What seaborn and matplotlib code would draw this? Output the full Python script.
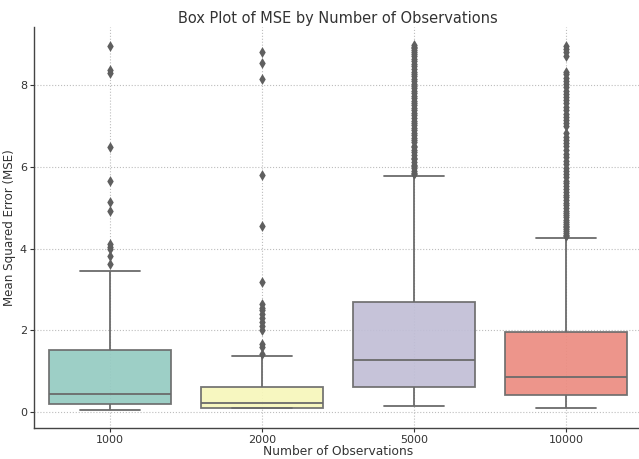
import numpy as np
import pandas as pd
import matplotlib
matplotlib.use("Agg")
import matplotlib.pyplot as plt
import seaborn as sns

# Category labels
groups = ["1000", "2000", "5000", "10000"]

# Five-number summaries per group: lower whisker, Q1, median, Q3, upper whisker
whisk_lo = [0.05, 0.11, 0.16, 0.11]
q1 = [0.20, 0.11, 0.62, 0.42]
median = [0.44, 0.21, 1.27, 0.86]
q3 = [1.52, 0.62, 2.70, 1.97]
whisk_hi = [3.44, 1.37, 5.78, 4.26]

# Outlying MSE values per group
out_1000 = [3.62, 3.82, 4.00, 4.05, 4.10, 4.93, 5.15, 5.65, 6.48, 8.30, 8.36, 8.96]
out_2000 = [1.42, 1.60, 1.66, 2.00, 2.10, 2.20, 2.30, 2.40, 2.50, 2.55, 2.65,
            3.19, 4.55, 5.81, 8.14, 8.55, 8.80]
out_5000 = [5.82, 5.85, 5.90, 5.96, 6.01, 6.05, 6.12, 6.18, 6.22, 6.30, 6.35,
            6.41, 6.48, 6.52, 6.60, 6.66, 6.71, 6.78, 6.83, 6.90, 6.95, 7.02,
            7.08, 7.13, 7.20, 7.26, 7.31, 7.38, 7.44, 7.50, 7.55, 7.62, 7.68,
            7.73, 7.80, 7.86, 7.92, 7.98, 8.03, 8.10, 8.15, 8.22, 8.28, 8.33,
            8.40, 8.46, 8.52, 8.58, 8.63, 8.70, 8.75, 8.80, 8.85, 8.90, 8.94, 8.98]
out_10000 = [4.30, 4.34, 4.38, 4.42, 4.47, 4.52, 4.56, 4.61, 4.66, 4.70, 4.76,
             4.82, 4.87, 4.93, 5.00, 5.06, 5.12, 5.18, 5.25, 5.31, 5.38, 5.45,
             5.52, 5.60, 5.66, 5.74, 5.82, 5.90, 5.98, 6.06, 6.15, 6.24, 6.32,
             6.40, 6.50, 6.58, 6.66, 6.74, 6.82, 7.00, 7.06, 7.14, 7.22, 7.30,
             7.38, 7.47, 7.55, 7.63, 7.70, 7.78, 7.86, 7.94, 8.02, 8.10, 8.18,
             8.26, 8.33, 8.72, 8.80, 8.88, 8.96]

# Long-form tables
box_rows = []
for i, g in enumerate(groups):
    for v in (whisk_lo[i], q1[i], median[i], q3[i], whisk_hi[i]):
        box_rows.append({"n": g, "mse": v})
box_df = pd.DataFrame(box_rows)

outliers = {"1000": out_1000, "2000": out_2000, "5000": out_5000, "10000": out_10000}
out_df = pd.DataFrame([{"n": g, "mse": v} for g in groups for v in outliers[g]])

sns.set_style("white")
plt.rcParams["font.family"] = ["DejaVu Sans"]
text_col = "#333333"

fig = plt.figure(figsize=(6.39, 4.59), dpi=100)
ax = fig.add_axes([34 / 639, 31 / 459, 608 / 639, 401 / 459])

line_col = "#6b6b6b"
sns.boxplot(data=box_df, x="n", y="mse", order=groups, hue="n", hue_order=groups,
            palette="Set3", saturation=0.78, legend=False, whis=(0, 100),
            showfliers=False, width=0.8, linewidth=1.3, linecolor=line_col, ax=ax,
            boxprops={"alpha": 0.92})
sns.stripplot(data=out_df, x="n", y="mse", order=groups, jitter=False,
              marker="d", size=5.5, color="#5f5f5f", linewidth=0, ax=ax, zorder=3)

ax.set_ylim(-0.39, 9.42)
ax.set_xlim(-0.5, 3.5)
ax.set_yticks([0, 2, 4, 6, 8])

ax.set_axisbelow(True)
ax.grid(True, linestyle=":", color="#bdbdbd", linewidth=0.8)
for s in ("top", "right"):
    ax.spines[s].set_visible(False)
for s in ("left", "bottom"):
    ax.spines[s].set_color("#444444")
    ax.spines[s].set_linewidth(1.0)

ax.tick_params(axis="both", labelsize=8, colors=text_col, length=3, width=0.8,
               pad=2, direction="out", bottom=True, left=True)
ax.set_title("Box Plot of MSE by Number of Observations", fontsize=10.5,
             color=text_col, pad=3)
ax.set_xlabel("Number of Observations", fontsize=8.8, color=text_col, labelpad=0)
ax.set_ylabel("Mean Squared Error (MSE)", fontsize=8.6, color=text_col, labelpad=3)

fig.savefig("out.png", dpi=100)
